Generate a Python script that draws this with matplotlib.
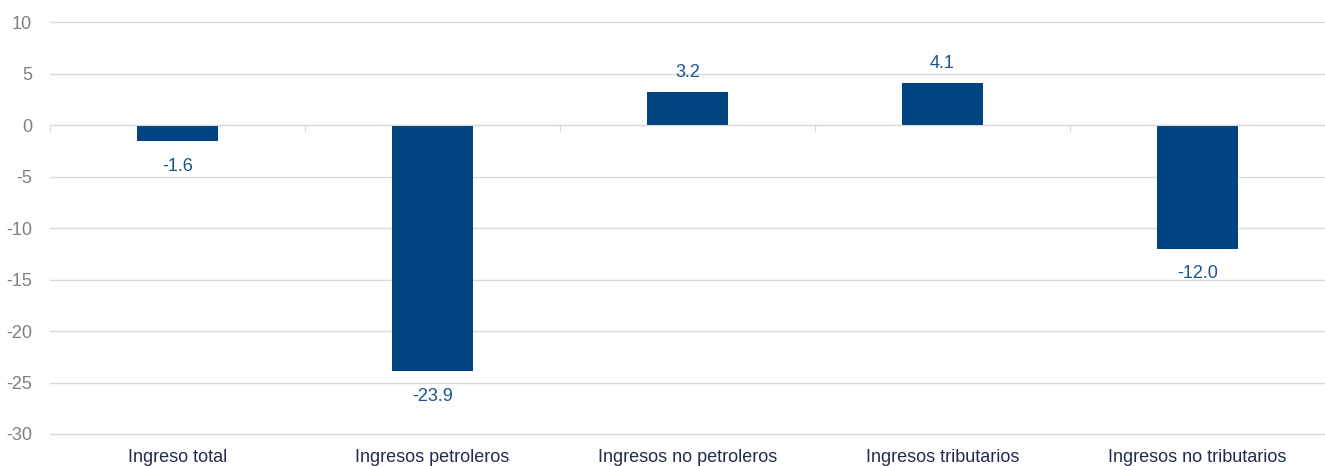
import matplotlib
matplotlib.use("Agg")
import matplotlib.pyplot as plt
from matplotlib.transforms import blended_transform_factory

categories = ["Ingreso total", "Ingresos petroleros", "Ingresos no petroleros",
              "Ingresos tributarios", "Ingresos no tributarios"]
values = [-1.6, -23.9, 3.2, 4.1, -12.0]
yticks = [10, 5, 0, -5, -10, -15, -20, -25, -30]

plt.rcParams['font.family'] = ['Liberation Sans', 'DejaVu Sans']

fig = plt.figure(figsize=(13.25, 4.66), dpi=100)
ax = fig.add_axes([50/1325, 32/466, 1 - 50/1325, (434-22)/466])

x = list(range(len(categories)))
bars = ax.bar(x, values, width=0.32, color="#004481", zorder=3,
              edgecolor="#004481", linewidth=0)

ax.set_ylim(-30, 10)
ax.set_xlim(-0.5, len(categories) - 0.5)
ax.set_yticks(yticks)
ax.set_yticklabels([str(t) for t in yticks])
ax.yaxis.grid(True, color="#d9d9d9", linewidth=1, zorder=0)
for gl in ax.yaxis.get_gridlines():
    gl.set_clip_on(False)
ax.tick_params(axis='y', length=0, labelsize=13, labelcolor="#808080", pad=13)

for s in ["top", "right", "left"]:
    ax.spines[s].set_visible(False)
ax.spines["bottom"].set_position(("data", 0))
ax.spines["bottom"].set_color("#d9d9d9")
ax.spines["bottom"].set_zorder(4)
ax.set_xticks([i - 0.5 for i in range(len(categories) + 1)])
ax.set_xticklabels([])
ax.tick_params(axis='x', length=5, color="#d9d9d9", direction='out')

trans = blended_transform_factory(ax.transData, ax.transAxes)
for i, c in enumerate(categories):
    ax.text(i, -24/412, c, transform=trans, ha='center', va='center',
            fontsize=13, color="#1f2d4d")

for i, v in enumerate(values):
    off = 14 if v >= 0 else -18
    ax.annotate(f"{v:.1f}", (i, v), xytext=(0, off), textcoords='offset points',
                ha='center', va='center', fontsize=13, color="#1b5591")

fig.savefig("out.png", dpi=100)
